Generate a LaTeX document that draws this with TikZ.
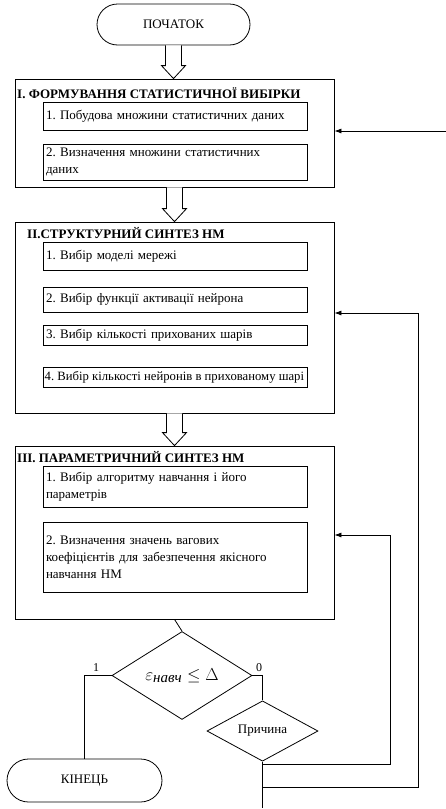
\documentclass[tikz,border=0pt]{standalone}
\usepackage{amsmath}
\usepackage{fontspec}
\setmainfont{Liberation Serif}
\frenchspacing
\usetikzlibrary{shapes.geometric,shapes.misc,arrows.meta,calc}
\tikzset{
  lw/.style={line width=0.8pt},
  term/.style={lw,draw,rounded rectangle,minimum width=153pt,minimum height=41pt,inner sep=0pt,font=\fontsize{13}{15}\selectfont},
  bigbox/.style={lw,draw,minimum width=319pt,inner sep=0pt},
  subbox/.style={lw,draw,minimum width=264pt,text width=258pt,align=left,inner sep=3pt,font=\fontsize{13}{17}\selectfont},
  subframe/.style={lw,draw,minimum width=264pt,inner sep=0pt},
  title/.style={anchor=west,inner sep=0pt,font=\bfseries\fontsize{13}{15}\selectfont},
  dec/.style={lw,draw,diamond,inner sep=0pt},
  conn/.style={lw},
  arr/.style={lw,-{Latex[length=7pt,width=5pt]}},
  hollow/.style={lw,draw,fill=white},
  lab/.style={inner sep=0pt,font=\fontsize{12}{14}\selectfont}
}
\newcommand{\harrow}[2]{%
  \path let \p1=(#1), \p2=(#2) in
    [hollow] (\x1-8pt,\y1) -- (\x1-8pt,\y2+13pt) -- (\x1-12pt,\y2+13pt) -- (\x1,\y2)
     -- (\x1+12pt,\y2+13pt) -- (\x1+8pt,\y2+13pt) -- (\x1+8pt,\y1);}
\begin{document}
\begin{tikzpicture}[x=1pt,y=-1pt]
\useasboundingbox (0,0) rectangle (446,809);
% start
\node[term] (start) at (173.5,24.5) {ПОЧАТОК};
% box I
\node[bigbox,minimum height=108pt] (b1) at (174.5,133) {};
\node[title] (t1) at (17,93) {I. ФОРМУВАННЯ СТАТИСТИЧНОЇ ВИБІРКИ};
\node[subbox,minimum height=28pt] (s11) at (175,116) {1. Побудова множини статистичних даних};
\node[subbox,minimum height=36pt] (s12) at (175,162) {2. Визначення множини статистичних\\даних};
% box II
\node[bigbox,minimum height=191pt] (b2) at (174.5,317.5) {};
\node[title] (t2) at (27,233) {II.СТРУКТУРНИЙ СИНТЕЗ НМ};
\node[subbox,minimum height=28pt] (s21) at (175,256) {1. Вибір моделі мережі};
\node[subbox,minimum height=25pt] (s22) at (175,299.5) {2. Вибір функції активації нейрона};
\node[subbox,minimum height=20pt] (s23) at (175,335) {3. Вибір кількості прихованих шарів};
\node[subframe,minimum height=20pt] (s24frame) at (175,377) {};
\node[inner sep=0pt,anchor=west,font=\fontsize{12.7}{17}\selectfont] (s24) at (44.5,377) {4. Вибір кількості нейронів в прихованому шарі};
% box III
\node[bigbox,minimum height=173pt] (b3) at (174.5,532.5) {};
\node[title] (t3) at (17,457) {III. ПАРАМЕТРИЧНИЙ СИНТЕЗ НМ};
\node[subbox,minimum height=41pt] (s31) at (175,486.5) {1. Вибір алгоритму навчання і його\\параметрів};
\node[subbox,minimum height=70pt] (s32) at (175,557) {2. Визначення значень вагових\\коефіцієнтів для забезпечення якісного\\навчання НМ};
% decisions
\node[dec,minimum width=140pt,minimum height=55pt] (d1) at (182,675.5) {\fontsize{18}{18}\selectfont$\varepsilon_{\text{\fontsize{15}{15}\selectfont\itshape навч}}\leq\Delta$};
\node[dec,minimum width=111pt,minimum height=56pt,font=\fontsize{13}{15}\selectfont] (d2) at (262.5,731) {Причина};
% end
\node[term,minimum width=155pt,minimum height=43pt] (end) at (84.5,780.5) {КІНЕЦЬ};
% hollow arrows
\harrow{start.south}{b1.north}
\harrow{b1.south}{b2.north}
\harrow{b2.south}{b3.north}
% connectors
\draw[conn] (b3.south) -- (d1.north);
\draw[conn] (d1.west) -| (end.north);
\draw[conn] (d1.east) -| (d2.north);
\node[lab] (l1) at (96,668) {1};
\node[lab] (l0) at (259,668) {0};
\coordinate (bot) at (262.5,808);
\draw[conn] (d2.south) -- (bot);
\coordinate (j1) at (262.5,764);
\coordinate (j2) at (262.5,787);
\coordinate (r3) at (390,535);
\coordinate (r2) at (418,313);
\coordinate (in1) at (446,131);
\draw[arr] (j1) -| (r3) -- (r3 -| b3.east);
\draw[arr] (j2) -| (r2) -- (r2 -| b2.east);
\draw[arr] (in1) -- (in1 -| b1.east);
\end{tikzpicture}
\end{document}
